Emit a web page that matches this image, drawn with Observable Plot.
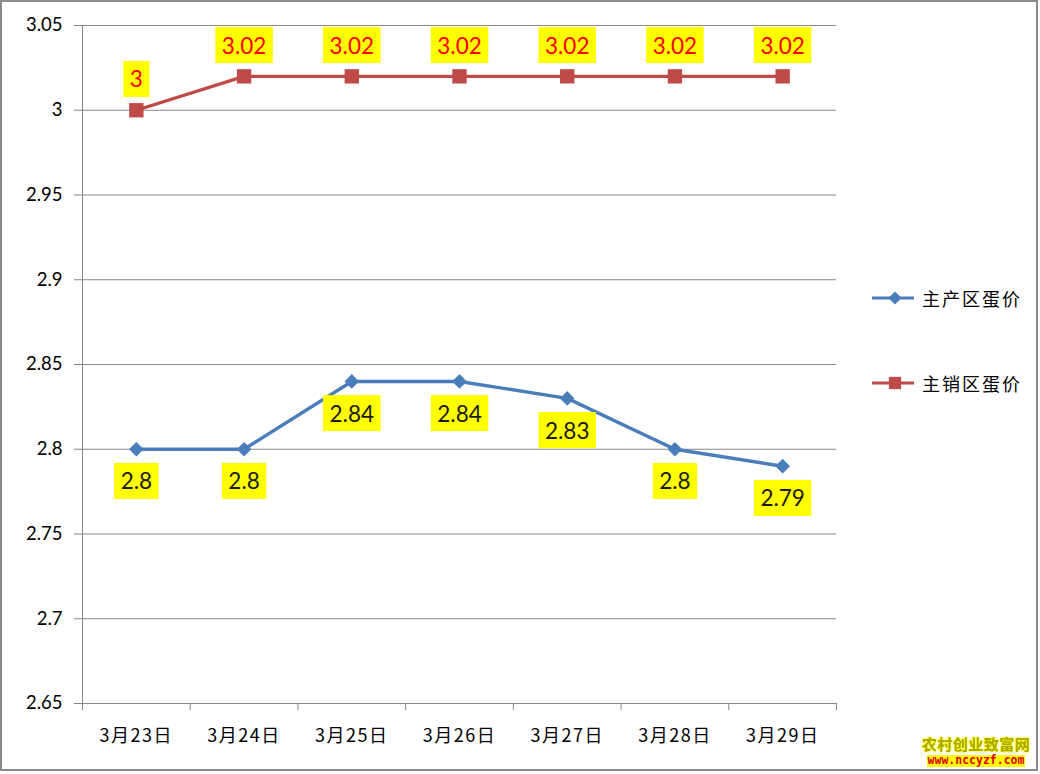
<!DOCTYPE html>
<html><head><meta charset="utf-8">
<script src="https://cdn.jsdelivr.net/npm/d3@7"></script>
<script src="https://cdn.jsdelivr.net/npm/@observablehq/plot@0.6"></script>
<style>
body{margin:0;background:#fff;}
#wrap{position:relative;width:1040px;height:774px;overflow:hidden;background:#fff;}
#chart{position:absolute;left:0;top:0;}
#frame{position:absolute;left:0;top:0;width:1034px;height:767px;border:2px solid #8a8a8a;pointer-events:none;}
#legend{position:absolute;left:868px;top:0;width:170px;height:774px;}
.leg{position:absolute;left:0;height:24px;display:flex;align-items:center;}
.leg span{font-family:"Noto Sans CJK SC",sans-serif;font-size:18px;letter-spacing:2px;color:#000;margin-left:6px;}
#mark{position:absolute;left:920px;top:736px;width:112px;text-align:center;line-height:1;}
#mark .a{font-family:"Noto Sans CJK SC",sans-serif;font-size:15px;font-weight:bold;color:#a8a800;text-shadow:0 0 2px #ffff00,0 0 2px #ffff00,0 0 1px #ffff00;letter-spacing:0.5px;}
#mark .b{font-family:"DejaVu Sans Mono",monospace;font-size:11.5px;font-weight:bold;color:#e00000;background:#ffff00;display:inline-block;margin-top:3px;padding:0 1px;}
.xlab text{letter-spacing:1.5px;}
</style></head><body>
<div id="wrap"><div id="chart"></div><div id="legend"></div>
<div id="mark"><div class="a">农村创业致富网</div><div class="b">www.nccyzf.com</div></div>
<div id="frame"></div></div>
<script>
const dates = ["3月23日","3月24日","3月25日","3月26日","3月27日","3月28日","3月29日"];
const producing = [2.8, 2.8, 2.84, 2.84, 2.83, 2.8, 2.79];
const selling = [3, 3.02, 3.02, 3.02, 3.02, 3.02, 3.02];
const yTicks = [3.05, 3, 2.95, 2.9, 2.85, 2.8, 2.75, 2.7, 2.65];
const seriesNames = ["主产区蛋价", "主销区蛋价"];
const seriesColors = ["#4a7ebb", "#be4b48"];
const labelColors = ["#1a1a1a", "#ff0000"];

const idx = dates.map((d, i) => i);
const bounds = d3.range(dates.length + 1).map(i => i - 0.5);
const prodData = dates.map((d, i) => ({i, v: producing[i]}));
const sellData = dates.map((d, i) => ({i, v: selling[i]}));
const grid = "#878787";

const plot = Plot.plot({
  width: 1040, height: 774,
  marginLeft: 82, marginRight: 204, marginTop: 25, marginBottom: 71,
  x: {type: "linear", domain: [-0.5, dates.length - 0.5]},
  y: {domain: [2.65, 3.05]},
  style: {background: "transparent", fontFamily: "Lato, sans-serif"},
  marks: [
    Plot.ruleY(yTicks, {stroke: grid, strokeWidth: 1}),
    Plot.ruleX([-0.5], {stroke: grid, strokeWidth: 1}),
    Plot.axisY({ticks: yTicks, tickSize: 8, tickFormat: () => "", color: grid, label: null}),
    Plot.axisY({ticks: yTicks, tickSize: 0, tickPadding: 20, tickFormat: d => String(d), fontSize: 18.5, color: "#000", label: null}),
    Plot.axisX({ticks: bounds, tickSize: 7, tickFormat: () => "", color: grid, label: null}),
    Plot.axisX({ticks: idx, tickSize: 0, tickPadding: 26, tickFormat: i => dates[i], fontSize: 18, fontFamily: "Noto Sans CJK SC, sans-serif", color: "#000", label: null, className: "xlab"}),
    Plot.line(prodData, {x: "i", y: "v", stroke: seriesColors[0], strokeWidth: 3.4}),
    Plot.line(sellData, {x: "i", y: "v", stroke: seriesColors[1], strokeWidth: 3.4}),
    Plot.dot(prodData, {x: "i", y: "v", symbol: "diamond2", r: 6.6, fill: seriesColors[0], stroke: "none"}),
    Plot.dot(sellData, {x: "i", y: "v", symbol: "square", r: 8.1, fill: seriesColors[1], stroke: "none"}),
    Plot.text(prodData, {x: "i", y: "v", text: d => String(d.v), dy: 33, fill: labelColors[0], fontSize: 22.5, fontFamily: "Lato, sans-serif"}),
    Plot.text(sellData, {x: "i", y: "v", text: d => String(d.v), dy: -30, fill: labelColors[1], fontSize: 22.5, fontFamily: "Lato, sans-serif"})
  ]
});
document.getElementById("chart").appendChild(plot);

// yellow label boxes
const svg = d3.select(plot);
svg.selectAll('g[aria-label="text"]').each(function() {
  d3.select(this).selectAll("text").each(function() {
    const b = this.getBBox();
    const h = 36, cy = b.y + b.height / 2;
    const r = document.createElementNS("http://www.w3.org/2000/svg", "rect");
    r.setAttribute("x", b.x - 6.5);
    r.setAttribute("y", cy - h / 2);
    r.setAttribute("width", b.width + 13);
    r.setAttribute("height", h);
    r.setAttribute("fill", "#ffff00");
    r.setAttribute("stroke", "none");
    const t = this.getAttribute("transform");
    if (t) r.setAttribute("transform", t);
    this.parentNode.insertBefore(r, this);
  });
});

// legend
const legTops = [298, 383];
const leg = d3.select("#legend");
seriesNames.forEach((name, k) => {
  const row = leg.append("div").attr("class", "leg").style("top", (legTops[k] - 12) + "px");
  const s = row.append("svg").attr("width", 48).attr("height", 24);
  s.append("line").attr("x1", 4).attr("x2", 46).attr("y1", 12).attr("y2", 12)
    .attr("stroke", seriesColors[k]).attr("stroke-width", 3.2);
  const sym = k === 0 ? d3.symbolDiamond2 : d3.symbolSquare;
  const size = k === 0 ? 110 : 150;
  s.append("path").attr("d", d3.symbol(sym, size)()).attr("transform", "translate(27,12)").attr("fill", seriesColors[k]);
  row.append("span").text(name);
});
</script>
</body></html>
